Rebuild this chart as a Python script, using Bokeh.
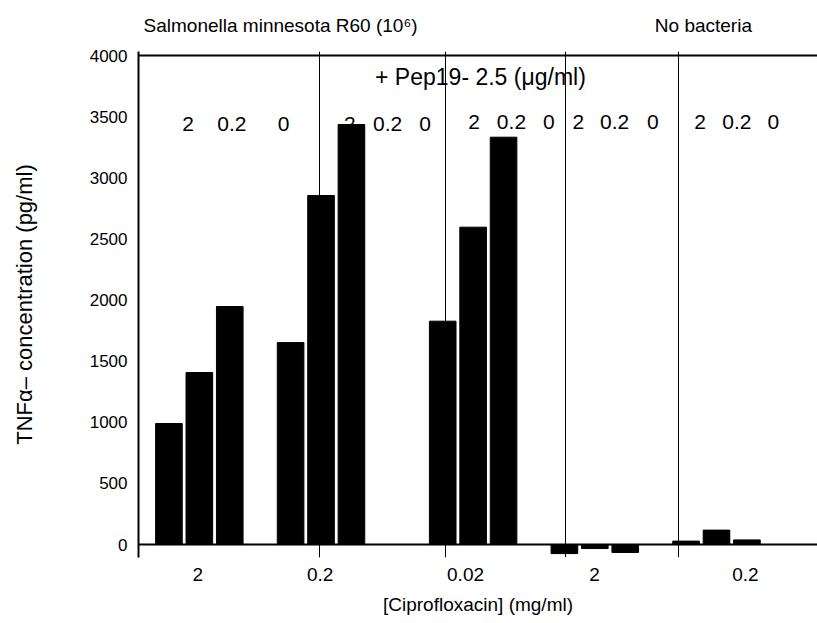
import math
from bokeh.plotting import figure
from bokeh.models import (Range1d, FixedTicker, Span, ColumnDataSource, LinearAxis)
from bokeh.core.properties import value
from bokeh.embed import file_html
from bokeh.resources import INLINE

# ---------------- data ----------------
cipro_groups = ["2", "0.2", "0.02", "2", "0.2"]          # [Ciprofloxacin] (mg/ml)
pep_levels = ["2", "0.2", "0"]                            # Pep19 level labels above bars
tnf_g1 = [990, 1407, 1947]
tnf_g2 = [1652, 2855, 3436]
tnf_g3 = [1827, 2596, 3332]
tnf_g4 = [-74, -33, -65]     # no bacteria
tnf_g5 = [28, 118, 38]       # no bacteria
y_ticks = [0, 500, 1000, 1500, 2000, 2500, 3000, 3500, 4000]
header_labels = ["Salmonella minnesota R60 (10\u2076)", "No bacteria"]

# ---------------- layout ----------------
FONT = "Liberation Sans"
group_start = [1, 5, 10, 14, 18]          # slot of first bar in each group
bar_width = 0.875
divider_x = [5.95, 10.09, 14.04, 17.75]
xlabel_x = [1.95, 5.97, 10.75, 14.99, 19.95]
header_x = [4.67, 18.57]
peplabel_x = [[1.63, 3.07, 4.77], [6.95, 8.19, 9.42], [11.03, 12.26, 13.49],
              [14.46, 15.65, 16.91], [18.46, 19.67, 20.87]]
peplabel_y = [3436, 3436, 3460, 3460, 3460]
pep_title_pos = (11.24, 3828)

groups_vals = [tnf_g1, tnf_g2, tnf_g3, tnf_g4, tnf_g5]
bx, btop = [], []
for s, vals in zip(group_start, groups_vals):
    for i, v in enumerate(vals):
        bx.append(s + i)
        btop.append(v)
bars = ColumnDataSource(dict(x=bx, top=btop, bottom=[0] * len(bx)))

tx, ty, tt = [], [], []
for xs, yv in zip(peplabel_x, peplabel_y):
    for x, lab in zip(xs, pep_levels):
        tx.append(x)
        ty.append(yv)
        tt.append(lab)
texts = ColumnDataSource(dict(x=tx, y=ty, text=tt))

p = figure(width=817, height=623, output_backend="svg", toolbar_location=None,
           x_range=Range1d(0, 22.32), y_range=Range1d(-106, 4033),
           min_border_left=138, min_border_right=0, min_border_top=51,
           min_border_bottom=66)
p.outline_line_color = None
p.background_fill_color = "white"
p.border_fill_color = "white"

# grids: only vertical dividers
p.ygrid.grid_line_color = None
p.xgrid.ticker = FixedTicker(ticks=divider_x)
p.xgrid.grid_line_color = "black"
p.xgrid.grid_line_width = 1

# y axis
p.yaxis.ticker = FixedTicker(ticks=y_ticks)
p.yaxis.axis_line_width = 2
p.yaxis.axis_line_color = "black"
p.yaxis.major_tick_in = 0
p.yaxis.major_tick_out = 0
p.yaxis.minor_tick_in = 0
p.yaxis.minor_tick_out = 0
p.yaxis.major_label_standoff = 11
p.yaxis.major_label_text_font = FONT
p.yaxis.major_label_text_font_size = "17px"
p.yaxis.major_label_text_color = "black"
p.yaxis.axis_label = "TNF\u03b1\u2013 concentration (pg/ml)"
p.yaxis.axis_label_text_font = FONT
p.yaxis.axis_label_text_font_style = "normal"
p.yaxis.axis_label_text_font_size = "22px"
p.yaxis.axis_label_text_color = "black"
p.yaxis.axis_label_standoff = 50

# x axis (labels only)
p.xaxis.ticker = FixedTicker(ticks=xlabel_x)
p.xaxis.major_label_overrides = {x: lab for x, lab in zip(xlabel_x, cipro_groups)}
p.xaxis.axis_line_color = None
p.xaxis.major_tick_in = 0
p.xaxis.major_tick_out = 0
p.xaxis.minor_tick_in = 0
p.xaxis.minor_tick_out = 0
p.xaxis.major_label_standoff = 10
p.xaxis.major_label_text_font = FONT
p.xaxis.major_label_text_font_size = "19px"
p.xaxis.major_label_text_color = "black"
p.xaxis.axis_label = "[Ciprofloxacin] (mg/ml)"
p.xaxis.axis_label_text_font = FONT
p.xaxis.axis_label_text_font_style = "normal"
p.xaxis.axis_label_text_font_size = "19px"
p.xaxis.axis_label_text_color = "black"
p.xaxis.axis_label_standoff = 10

# header axis above (condition labels)
top_ax = LinearAxis(ticker=FixedTicker(ticks=header_x),
                    major_label_overrides={x: t for x, t in zip(header_x, header_labels)},
                    axis_line_color=None, major_tick_in=0, major_tick_out=0,
                    minor_tick_in=0, minor_tick_out=0, major_label_standoff=16,
                    major_label_text_font=FONT, major_label_text_font_size="19px",
                    major_label_text_color="black")
p.add_layout(top_ax, "above")

# reference lines
p.add_layout(Span(location=0, dimension="width", line_color="black", line_width=2))
p.add_layout(Span(location=4000, dimension="width", line_color="black", line_width=2))

# Pep19 level labels (drawn before bars so bars sit on top)
p.text(x="x", y="y", text="text", source=texts, text_font=value(FONT),
       text_font_size="21px", text_align="center", text_baseline="middle",
       text_color="black")
p.text(x=[pep_title_pos[0]], y=[pep_title_pos[1]], text=["+ Pep19- 2.5 (\u03bcg/ml)"],
       text_font=value(FONT), text_font_size="23px", text_align="center",
       text_baseline="middle", text_color="black")

p.vbar(x="x", top="top", bottom="bottom", width=bar_width, source=bars,
       fill_color="black", line_color="black")

open("out.html", "w").write(file_html(p, INLINE))
